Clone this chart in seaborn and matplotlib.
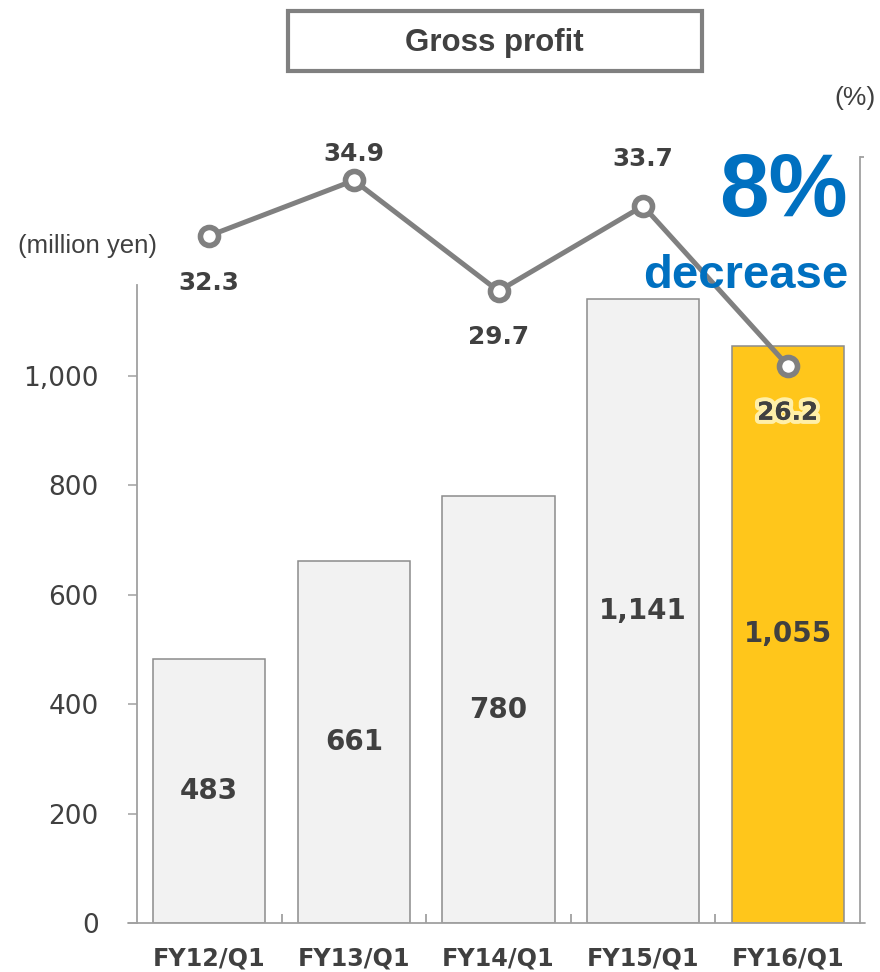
import numpy as np
import pandas as pd
import matplotlib
matplotlib.use("Agg")
import matplotlib.pyplot as plt
import matplotlib.patheffects as pe
from matplotlib.patches import Rectangle
from matplotlib.lines import Line2D
import seaborn as sns

# ---- data ----
categories = ["FY12/Q1", "FY13/Q1", "FY14/Q1", "FY15/Q1", "FY16/Q1"]
gross_profit = [483, 661, 780, 1141, 1055]          # million yen
margin_pct = [32.3, 34.9, 29.7, 33.7, 26.2]          # %
left_ticks = [0, 200, 400, 600, 800, 1000]
bar_colors = ["#F2F2F2", "#F2F2F2", "#F2F2F2", "#F2F2F2", "#FFC61B"]
title_text = "Gross profit"
unit_left = "(million yen)"
unit_right = "(%)"
callout_big = "8%"
callout_small = "decrease"

# style: label offsets (points) for the margin labels
label_offsets = [-34, 19, -33, 34, -34]

sns.set_theme(style="white")
plt.rcParams["font.family"] = ["DejaVu Sans"]

TXT = "#404040"
GRAY = "#A0A0A0"
LINEC = "#808080"
BLUE = "#0070C0"

fig = plt.figure(figsize=(8.8, 9.72), dpi=100)
ax = fig.add_axes([137/880, 49/972, 723/880, 766/972])

df = pd.DataFrame({"cat": categories, "val": gross_profit})
sns.barplot(data=df, x="cat", y="val", hue="cat", palette=bar_colors,
            legend=False, width=0.775, edgecolor="#8C8C8C", linewidth=1.1,
            saturation=1, ax=ax)

ax.set_xlim(-0.5, len(categories) - 0.5)
ax.set_ylim(0, 1400)
ax.set_xlabel("")
ax.set_ylabel("")
ax.set_yticks(left_ticks)
ax.set_yticklabels([f"{v:,}" for v in left_ticks])
ax.tick_params(axis="y", which="major", direction="out", length=6.5, width=1.1,
               color=GRAY, labelsize=19, labelcolor=TXT, pad=21, left=True)

ax.set_xticks(range(len(categories)))
ax.set_xticklabels(categories)
ax.tick_params(axis="x", which="major", length=0, labelsize=17.2,
               labelcolor=TXT, pad=17)
for lbl in ax.get_xticklabels():
    lbl.set_fontweight("bold")
ax.set_xticks(np.arange(0.5, len(categories) - 0.5, 1), minor=True)
ax.tick_params(axis="x", which="minor", direction="in", length=6.5, width=1.3,
               color=GRAY, bottom=True)

for s in ["top", "right"]:
    ax.spines[s].set_visible(False)
ax.spines["left"].set_color(GRAY)
ax.spines["left"].set_linewidth(1.3)
ax.spines["left"].set_bounds(0, 1166)
ax.spines["bottom"].set_visible(False)
ax.add_line(Line2D([-0.013, 1.007], [0, 0], transform=ax.transAxes,
                   color=GRAY, lw=1.3, clip_on=False, zorder=5))

# bar value labels
for cont in ax.containers:
    ax.bar_label(cont, labels=[f"{v:,.0f}" for v in cont.datavalues],
                 label_type="center", fontsize=20, fontweight="bold",
                 color=TXT)

# ---- margin line on twin axis ----
ax2 = ax.twinx()
ax2.set_ylim(0, 36)
sns.lineplot(x=np.arange(len(categories)), y=margin_pct, ax=ax2,
             color=LINEC, linewidth=3.6, marker="o", markersize=13,
             markerfacecolor="white", markeredgecolor=LINEC,
             markeredgewidth=4, zorder=6)
ax2.set_xlim(-0.5, len(categories) - 0.5)
ax2.set_yticks([36])
ax2.set_yticklabels([""])
ax2.tick_params(axis="y", direction="out", length=3, width=1.3, color=GRAY,
                right=True, left=False)
for s in ["top", "left", "bottom"]:
    ax2.spines[s].set_visible(False)
ax2.spines["right"].set_color(GRAY)
ax2.spines["right"].set_linewidth(1.3)
ax2.set_ylabel("")

for i, (v, off) in enumerate(zip(margin_pct, label_offsets)):
    t = ax2.annotate(f"{v:.1f}", xy=(i, v), xytext=(0, off),
                     textcoords="offset points", ha="center", va="center",
                     fontsize=17.8, fontweight="bold", color=TXT, zorder=7)
    if i == len(categories) - 1:
        t.set_path_effects([pe.withStroke(linewidth=6, foreground="#FFEFA8"),
                            pe.Normal()])

# ---- annotations / titles ----
fig.patches.append(Rectangle((288/880, 1 - 71/972), 414/880, 60/972,
                             transform=fig.transFigure, fill=False,
                             edgecolor="#808080", linewidth=3))
fig.text(494/880, 1 - 43/972, title_text, ha="center", va="center",
         fontsize=22.5, fontweight="bold", color=TXT,
         family="Liberation Sans")
fig.text(87/880, 1 - 246/972, unit_left, ha="center", va="center",
         fontsize=18.5, color=TXT, family="Liberation Sans")
fig.text(855/880, 1 - 98/972, unit_right, ha="center", va="center",
         fontsize=19, color=TXT, family="Liberation Sans")
fig.text(848/880, 1 - 193/972, callout_big, ha="right", va="center",
         fontsize=64, fontweight="bold", color=BLUE, family="Liberation Sans")
fig.text(848/880, 1 - 276/972, callout_small, ha="right", va="center",
         fontsize=34, fontweight="bold", color=BLUE, family="Liberation Sans")

fig.savefig("out.png", dpi=100)
